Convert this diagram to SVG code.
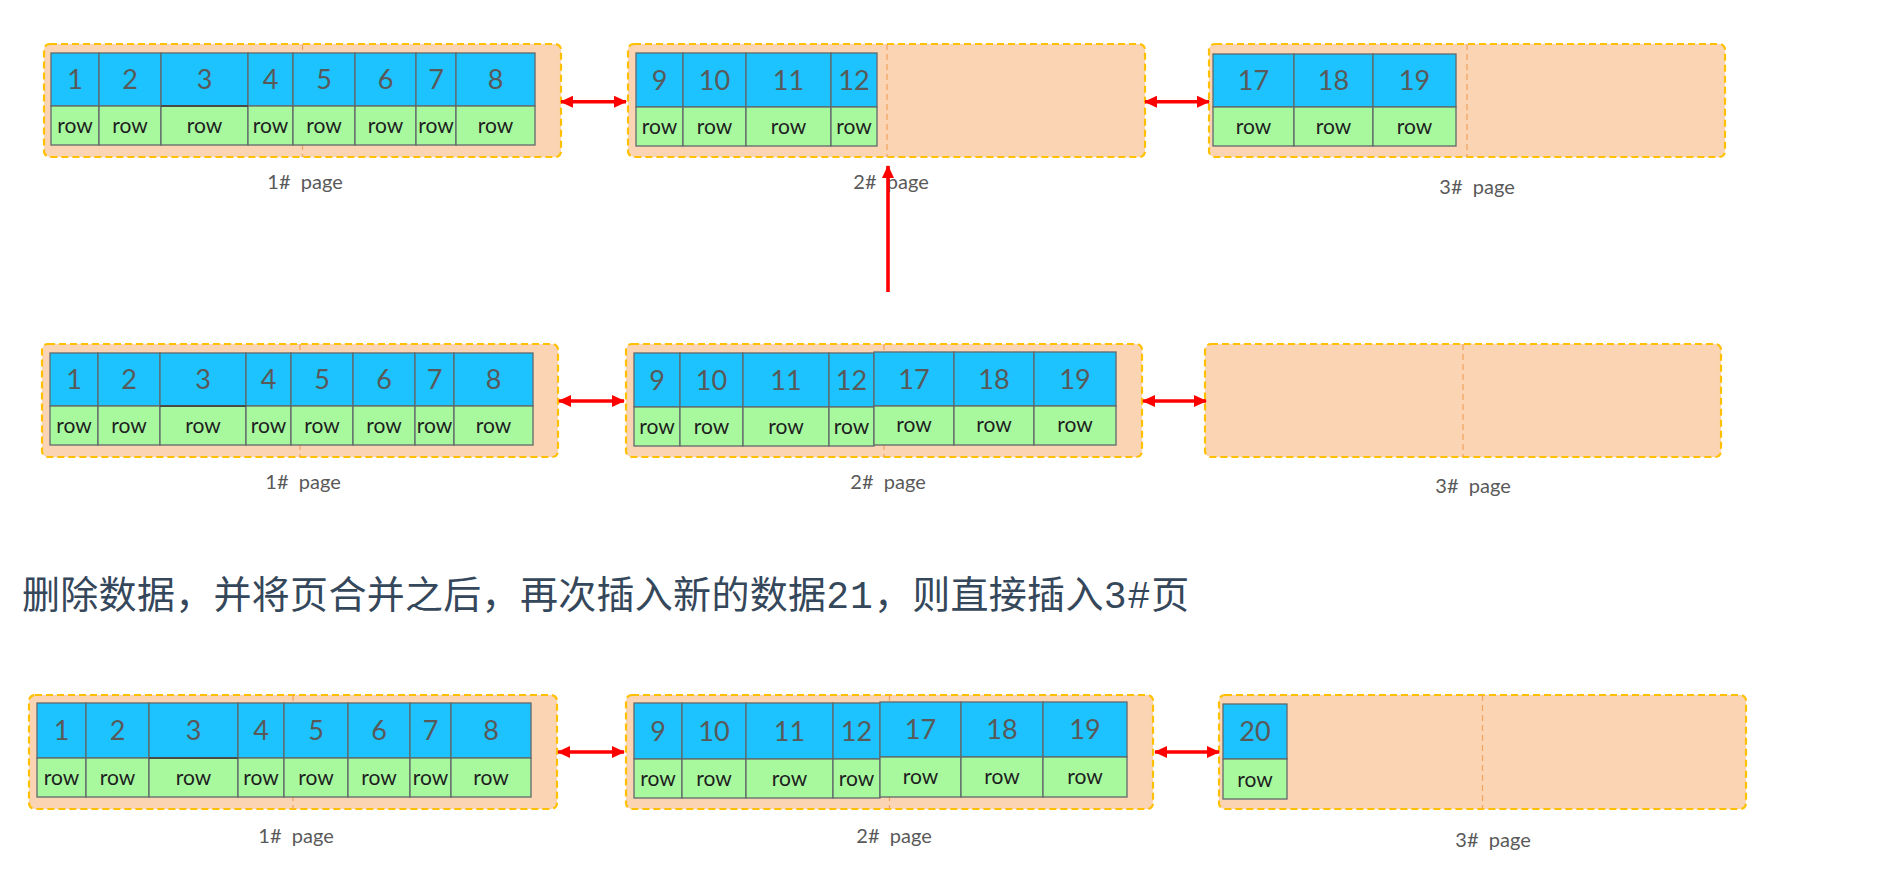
<svg xmlns="http://www.w3.org/2000/svg" width="1880" height="884" viewBox="0 0 1880 884">
<style>
.page{fill:#FBD4B4;stroke:#FFC000;stroke-width:2.2;stroke-dasharray:7 4}
.mid{stroke:#F4A25E;stroke-width:1.2;stroke-dasharray:6 4;fill:none}
.k{fill:#1CC3FE;stroke:#60696B;stroke-width:1.3}
.v{fill:#A8F99E;stroke:#60696B;stroke-width:1.3}
.n{font-family:Lato,"Open Sans","Liberation Sans",sans-serif;font-size:27px;fill:#595959;text-anchor:middle}
.r{font-family:Lato,"Open Sans","Liberation Sans",sans-serif;font-size:21px;fill:#1E1E1E;text-anchor:middle}
.lbl{font-family:Lato,"Open Sans","Liberation Sans",sans-serif;font-size:20px;fill:#595959;text-anchor:middle;white-space:pre}
.arr{stroke:#FF0000;stroke-width:3.6;fill:none;marker-start:url(#ah);marker-end:url(#ah)}
.arr1{stroke:#FF0000;stroke-width:3.6;fill:none;marker-end:url(#ah)}
.title{font-family:"Noto Sans CJK SC","Noto Sans",sans-serif;font-size:38px;fill:#35475A;letter-spacing:0.3px}
.thick{stroke:#4A4A4A;stroke-width:2.2}
</style>
<defs>
<marker id="ah" markerUnits="userSpaceOnUse" markerWidth="13" markerHeight="12" refX="12" refY="6" orient="auto-start-reverse" viewBox="0 0 13 12">
<path d="M0,0 L13,6 L0,12 Z" fill="#FF0000"/>
</marker>
</defs>
<rect width="1880" height="884" fill="#FFFFFF"/>

<!-- ROW 1 -->
<g id="r1p1">
<rect class="page" x="44" y="44" width="517" height="113" rx="6"/>
<line class="mid" x1="302.5" y1="44" x2="302.5" y2="157"/>
<rect class="k" x="51" y="53" width="48" height="53"/><rect class="v" x="51" y="106" width="48" height="39"/>
<rect class="k" x="99" y="53" width="62" height="53"/><rect class="v" x="99" y="106" width="62" height="39"/>
<rect class="k" x="161" y="53" width="87" height="53"/><rect class="v" x="161" y="106" width="87" height="39"/>
<rect class="k" x="248" y="53" width="45" height="53"/><rect class="v" x="248" y="106" width="45" height="39"/>
<rect class="k" x="293" y="53" width="62" height="53"/><rect class="v" x="293" y="106" width="62" height="39"/>
<rect class="k" x="355" y="53" width="61" height="53"/><rect class="v" x="355" y="106" width="61" height="39"/>
<rect class="k" x="416" y="53" width="40" height="53"/><rect class="v" x="416" y="106" width="40" height="39"/>
<rect class="k" x="456" y="53" width="79" height="53"/><rect class="v" x="456" y="106" width="79" height="39"/>
<line class="thick" x1="161" y1="106" x2="248" y2="106"/>
<text class="n" x="75" y="89">1</text><text class="n" x="130" y="89">2</text><text class="n" x="204.5" y="89">3</text><text class="n" x="270.5" y="89">4</text><text class="n" x="324" y="89">5</text><text class="n" x="385.5" y="89">6</text><text class="n" x="436" y="89">7</text><text class="n" x="495.5" y="89">8</text>
<text class="r" x="75" y="133">row</text><text class="r" x="130" y="133">row</text><text class="r" x="204.5" y="133">row</text><text class="r" x="270.5" y="133">row</text><text class="r" x="324" y="133">row</text><text class="r" x="385.5" y="133">row</text><text class="r" x="436" y="133">row</text><text class="r" x="495.5" y="133">row</text>
<text class="lbl" x="305" y="189">1#  page</text>
</g>
<g id="r1p2">
<rect class="page" x="628" y="44" width="517" height="113" rx="6"/>
<line class="mid" x1="887" y1="44" x2="887" y2="157"/>
<rect class="k" x="636" y="53" width="47" height="54"/><rect class="v" x="636" y="107" width="47" height="39"/>
<rect class="k" x="683" y="53" width="63" height="54"/><rect class="v" x="683" y="107" width="63" height="39"/>
<rect class="k" x="746" y="53" width="85" height="54"/><rect class="v" x="746" y="107" width="85" height="39"/>
<rect class="k" x="831" y="53" width="46" height="54"/><rect class="v" x="831" y="107" width="46" height="39"/>
<text class="n" x="659.5" y="89.5">9</text><text class="n" x="714.5" y="89.5">10</text><text class="n" x="788.5" y="89.5">11</text><text class="n" x="854" y="89.5">12</text>
<text class="r" x="659.5" y="134">row</text><text class="r" x="714.5" y="134">row</text><text class="r" x="788.5" y="134">row</text><text class="r" x="854" y="134">row</text>
<text class="lbl" x="891" y="189">2#  page</text>
</g>
<g id="r1p3">
<rect class="page" x="1209" y="44" width="516" height="113" rx="6"/>
<line class="mid" x1="1467" y1="44" x2="1467" y2="157"/>
<rect class="k" x="1213" y="54" width="81" height="53"/><rect class="v" x="1213" y="107" width="81" height="39"/>
<rect class="k" x="1294" y="54" width="79" height="53"/><rect class="v" x="1294" y="107" width="79" height="39"/>
<rect class="k" x="1373" y="54" width="83" height="53"/><rect class="v" x="1373" y="107" width="83" height="39"/>
<text class="n" x="1253.5" y="90">17</text><text class="n" x="1333.5" y="90">18</text><text class="n" x="1414.5" y="90">19</text>
<text class="r" x="1253.5" y="134">row</text><text class="r" x="1333.5" y="134">row</text><text class="r" x="1414.5" y="134">row</text>
<text class="lbl" x="1477" y="194">3#  page</text>
</g>

<!-- ROW 2 -->
<g id="r2p1">
<rect class="page" x="42" y="344" width="516" height="113" rx="6"/>
<line class="mid" x1="300" y1="344" x2="300" y2="457"/>
<rect class="k" x="50" y="353" width="48" height="53"/><rect class="v" x="50" y="406" width="48" height="39"/>
<rect class="k" x="98" y="353" width="62" height="53"/><rect class="v" x="98" y="406" width="62" height="39"/>
<rect class="k" x="160" y="353" width="86" height="53"/><rect class="v" x="160" y="406" width="86" height="39"/>
<rect class="k" x="246" y="353" width="45" height="53"/><rect class="v" x="246" y="406" width="45" height="39"/>
<rect class="k" x="291" y="353" width="62" height="53"/><rect class="v" x="291" y="406" width="62" height="39"/>
<rect class="k" x="353" y="353" width="62" height="53"/><rect class="v" x="353" y="406" width="62" height="39"/>
<rect class="k" x="415" y="353" width="39" height="53"/><rect class="v" x="415" y="406" width="39" height="39"/>
<rect class="k" x="454" y="353" width="79" height="53"/><rect class="v" x="454" y="406" width="79" height="39"/>
<line class="thick" x1="160" y1="406" x2="246" y2="406"/>
<text class="n" x="74" y="389">1</text><text class="n" x="129" y="389">2</text><text class="n" x="203" y="389">3</text><text class="n" x="268.5" y="389">4</text><text class="n" x="322" y="389">5</text><text class="n" x="384" y="389">6</text><text class="n" x="434.5" y="389">7</text><text class="n" x="493.5" y="389">8</text>
<text class="r" x="74" y="433">row</text><text class="r" x="129" y="433">row</text><text class="r" x="203" y="433">row</text><text class="r" x="268.5" y="433">row</text><text class="r" x="322" y="433">row</text><text class="r" x="384" y="433">row</text><text class="r" x="434.5" y="433">row</text><text class="r" x="493.5" y="433">row</text>
<text class="lbl" x="303" y="489">1#  page</text>
</g>
<g id="r2p2">
<rect class="page" x="626" y="344" width="516" height="113" rx="6"/>
<line class="mid" x1="884" y1="344" x2="884" y2="457"/>
<rect class="k" x="634" y="353" width="46" height="54"/><rect class="v" x="634" y="407" width="46" height="39"/>
<rect class="k" x="680" y="353" width="63" height="54"/><rect class="v" x="680" y="407" width="63" height="39"/>
<rect class="k" x="743" y="353" width="86" height="54"/><rect class="v" x="743" y="407" width="86" height="39"/>
<rect class="k" x="829" y="353" width="45" height="54"/><rect class="v" x="829" y="407" width="45" height="39"/>
<rect class="k" x="874" y="352" width="80" height="54"/><rect class="v" x="874" y="406" width="80" height="39"/>
<rect class="k" x="954" y="352" width="80" height="54"/><rect class="v" x="954" y="406" width="80" height="39"/>
<rect class="k" x="1034" y="352" width="82" height="54"/><rect class="v" x="1034" y="406" width="82" height="39"/>
<text class="n" x="657" y="389.5">9</text><text class="n" x="711.5" y="389.5">10</text><text class="n" x="786" y="389.5">11</text><text class="n" x="851.5" y="389.5">12</text>
<text class="n" x="914" y="388.5">17</text><text class="n" x="994" y="388.5">18</text><text class="n" x="1075" y="388.5">19</text>
<text class="r" x="657" y="434">row</text><text class="r" x="711.5" y="434">row</text><text class="r" x="786" y="434">row</text><text class="r" x="851.5" y="434">row</text>
<text class="r" x="914" y="432">row</text><text class="r" x="994" y="432">row</text><text class="r" x="1075" y="432">row</text>
<text class="lbl" x="888" y="489">2#  page</text>
</g>
<g id="r2p3">
<rect class="page" x="1205" y="344" width="516" height="113" rx="6"/>
<line class="mid" x1="1463" y1="344" x2="1463" y2="457"/>
<text class="lbl" x="1473" y="493">3#  page</text>
</g>

<!-- TITLE -->
<text id="caption" class="title" x="22" y="608">删除数据，并将页合并之后，再次插入新的数据<tspan font-family="'Liberation Mono', 'Courier New', monospace" letter-spacing="1">21</tspan>，则直接插入<tspan font-family="'Liberation Mono', 'Courier New', monospace" letter-spacing="1">3#</tspan>页</text>

<!-- ROW 3 -->
<g id="r3p1">
<rect class="page" x="29" y="695" width="528" height="114" rx="6"/>
<line class="mid" x1="293" y1="695" x2="293" y2="809"/>
<rect class="k" x="37" y="703" width="49" height="55"/><rect class="v" x="37" y="758" width="49" height="39"/>
<rect class="k" x="86" y="703" width="63" height="55"/><rect class="v" x="86" y="758" width="63" height="39"/>
<rect class="k" x="149" y="703" width="89" height="55"/><rect class="v" x="149" y="758" width="89" height="39"/>
<rect class="k" x="238" y="703" width="46" height="55"/><rect class="v" x="238" y="758" width="46" height="39"/>
<rect class="k" x="284" y="703" width="64" height="55"/><rect class="v" x="284" y="758" width="64" height="39"/>
<rect class="k" x="348" y="703" width="62" height="55"/><rect class="v" x="348" y="758" width="62" height="39"/>
<rect class="k" x="410" y="703" width="41" height="55"/><rect class="v" x="410" y="758" width="41" height="39"/>
<rect class="k" x="451" y="703" width="80" height="55"/><rect class="v" x="451" y="758" width="80" height="39"/>
<line class="thick" x1="149" y1="758" x2="238" y2="758"/>
<text class="n" x="61.5" y="740">1</text><text class="n" x="117.5" y="740">2</text><text class="n" x="193.5" y="740">3</text><text class="n" x="261" y="740">4</text><text class="n" x="316" y="740">5</text><text class="n" x="379" y="740">6</text><text class="n" x="430.5" y="740">7</text><text class="n" x="491" y="740">8</text>
<text class="r" x="61.5" y="785">row</text><text class="r" x="117.5" y="785">row</text><text class="r" x="193.5" y="785">row</text><text class="r" x="261" y="785">row</text><text class="r" x="316" y="785">row</text><text class="r" x="379" y="785">row</text><text class="r" x="430.5" y="785">row</text><text class="r" x="491" y="785">row</text>
<text class="lbl" x="296" y="843">1#  page</text>
</g>
<g id="r3p2">
<rect class="page" x="626" y="695" width="527" height="114" rx="6"/>
<line class="mid" x1="889.5" y1="695" x2="889.5" y2="809"/>
<rect class="k" x="634" y="703" width="48" height="56"/><rect class="v" x="634" y="759" width="48" height="39"/>
<rect class="k" x="682" y="703" width="64" height="56"/><rect class="v" x="682" y="759" width="64" height="39"/>
<rect class="k" x="746" y="703" width="87" height="56"/><rect class="v" x="746" y="759" width="87" height="39"/>
<rect class="k" x="833" y="703" width="47" height="56"/><rect class="v" x="833" y="759" width="47" height="39"/>
<rect class="k" x="880" y="702" width="81" height="55"/><rect class="v" x="880" y="757" width="81" height="40"/>
<rect class="k" x="961" y="702" width="82" height="55"/><rect class="v" x="961" y="757" width="82" height="40"/>
<rect class="k" x="1043" y="702" width="84" height="55"/><rect class="v" x="1043" y="757" width="84" height="40"/>
<text class="n" x="658" y="740.5">9</text><text class="n" x="714" y="740.5">10</text><text class="n" x="789.5" y="740.5">11</text><text class="n" x="856.5" y="740.5">12</text>
<text class="n" x="920.5" y="739">17</text><text class="n" x="1002" y="739">18</text><text class="n" x="1085" y="739">19</text>
<text class="r" x="658" y="786">row</text><text class="r" x="714" y="786">row</text><text class="r" x="789.5" y="786">row</text><text class="r" x="856.5" y="786">row</text>
<text class="r" x="920.5" y="783.5">row</text><text class="r" x="1002" y="783.5">row</text><text class="r" x="1085" y="783.5">row</text>
<text class="lbl" x="894" y="843">2#  page</text>
</g>
<g id="r3p3">
<rect class="page" x="1219" y="695" width="527" height="114" rx="6"/>
<line class="mid" x1="1482.5" y1="695" x2="1482.5" y2="809"/>
<rect class="k" x="1223" y="704" width="64" height="55"/><rect class="v" x="1223" y="759" width="64" height="40"/>
<text class="n" x="1255" y="741">20</text>
<text class="r" x="1255" y="786.5">row</text>
<text class="lbl" x="1493" y="847">3#  page</text>
</g>

<!-- CONNECTORS -->
<g id="connectors">
<line class="arr" x1="561" y1="101.7" x2="626" y2="101.7"/>
<line class="arr" x1="1145" y1="101.7" x2="1209" y2="101.7"/>
<line class="arr1" x1="888" y1="292" x2="888" y2="166"/>
<line class="arr" x1="559" y1="401" x2="624" y2="401"/>
<line class="arr" x1="1143" y1="401" x2="1206" y2="401"/>
<line class="arr" x1="558" y1="752" x2="624" y2="752"/>
<line class="arr" x1="1155" y1="752" x2="1219" y2="752"/>
</g>
</svg>
